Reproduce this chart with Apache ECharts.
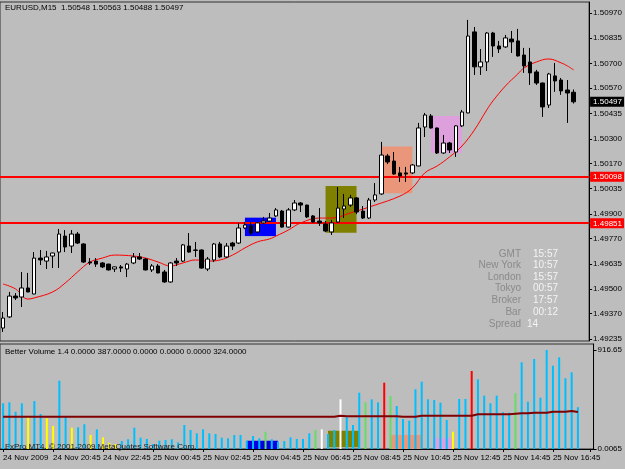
<!DOCTYPE html>
<html>
<head>
<meta charset="utf-8" />
<title>EURUSD,M15</title>
<script src="https://cdn.jsdelivr.net/npm/echarts@6.0.0/dist/echarts.min.js"></script>
<style>
  html, body { margin: 0; padding: 0; background: #bdbdbd; }
  #chart { width: 625px; height: 469px; }
</style>
</head>
<body>
<div id="chart"></div>
<script>
// ---- data ----
var open = [1.49294,1.49353,1.49464,1.49459,1.49507,1.49475,1.49666,1.49650,1.49677,1.49698,
  1.49783,1.49730,1.49794,1.49741,1.49645,1.49650,1.49640,1.49634,1.49608,1.49619,
  1.49608,1.49640,1.49672,1.49661,1.49603,1.49624,1.49592,1.49539,1.49650,1.49650,
  1.49730,1.49709,1.49709,1.49608,1.49656,1.49741,1.49672,1.49746,1.49746,1.49826,
  1.49837,1.49805,1.49853,1.49863,1.49890,1.49916,1.49831,1.49922,1.49959,1.49948,
  1.49890,1.49863,1.49847,1.49805,1.49858,1.49927,1.49948,1.49986,1.49916,1.49879,
  1.49975,1.50007,1.50209,1.50182,1.50119,1.50119,1.50119,1.50156,1.50363,1.50422,
  1.50358,1.50225,1.50278,1.50230,1.50369,1.50438,1.50869,1.50683,1.50709,1.50863,
  1.50794,1.50789,1.50831,1.50821,1.50746,1.50709,1.50656,1.50597,1.50480,1.50635,
  1.50613,1.50560,1.50548];
var high = [1.49379,1.49486,1.49480,1.49592,1.49587,1.49698,1.49709,1.49704,1.49695,1.49821,
  1.49815,1.49815,1.49805,1.49745,1.49666,1.49666,1.49645,1.49636,1.49621,1.49629,
  1.49640,1.49693,1.49693,1.49666,1.49634,1.49634,1.49603,1.49645,1.49666,1.49741,
  1.49799,1.49752,1.49712,1.49672,1.49746,1.49752,1.49746,1.49752,1.49853,1.49858,
  1.49858,1.49858,1.49885,1.49906,1.49932,1.49922,1.49932,1.49975,1.49964,1.49950,
  1.49895,1.49932,1.49863,1.49869,1.50044,1.50007,1.50002,1.49990,1.49943,1.49986,
  1.50065,1.50284,1.50220,1.50230,1.50151,1.50151,1.50166,1.50385,1.50438,1.50432,
  1.50360,1.50321,1.50284,1.50372,1.50454,1.50933,1.50895,1.50778,1.50868,1.50869,
  1.50821,1.50853,1.50874,1.50885,1.50784,1.50784,1.50667,1.50600,1.50651,1.50704,
  1.50624,1.50613,1.50563];
var low = [1.49273,1.49347,1.49443,1.49406,1.49484,1.49473,1.49629,1.49608,1.49613,1.49613,
  1.49698,1.49693,1.49741,1.49640,1.49629,1.49619,1.49613,1.49600,1.49592,1.49592,
  1.49565,1.49634,1.49656,1.49600,1.49592,1.49585,1.49535,1.49535,1.49624,1.49645,
  1.49695,1.49672,1.49610,1.49597,1.49645,1.49666,1.49666,1.49709,1.49741,1.49820,
  1.49789,1.49799,1.49848,1.49858,1.49885,1.49828,1.49828,1.49916,1.49911,1.49879,
  1.49853,1.49837,1.49805,1.49789,1.49853,1.49879,1.49938,1.49900,1.49874,1.49874,
  1.49964,1.50002,1.50166,1.50110,1.50071,1.50071,1.50113,1.50155,1.50310,1.50355,
  1.50220,1.50220,1.50225,1.50204,1.50363,1.50436,1.50640,1.50640,1.50661,1.50736,
  1.50757,1.50784,1.50757,1.50738,1.50651,1.50587,1.50587,1.50417,1.50464,1.50550,
  1.50534,1.50385,1.50488];
var close = [1.49347,1.49464,1.49454,1.49507,1.49486,1.49666,1.49656,1.49672,1.49693,1.49794,
  1.49725,1.49794,1.49746,1.49645,1.49640,1.49634,1.49619,1.49603,1.49619,1.49613,
  1.49634,1.49672,1.49661,1.49603,1.49624,1.49587,1.49539,1.49640,1.49640,1.49736,
  1.49698,1.49707,1.49613,1.49661,1.49741,1.49672,1.49730,1.49730,1.49826,1.49842,
  1.49799,1.49853,1.49863,1.49879,1.49922,1.49831,1.49922,1.49959,1.49948,1.49885,
  1.49858,1.49853,1.49810,1.49853,1.49932,1.49943,1.49986,1.49911,1.49879,1.49975,
  1.50002,1.50214,1.50177,1.50113,1.50103,1.50113,1.50161,1.50358,1.50427,1.50358,
  1.50225,1.50278,1.50241,1.50369,1.50443,1.50847,1.50683,1.50709,1.50863,1.50794,
  1.50778,1.50837,1.50816,1.50741,1.50688,1.50651,1.50597,1.50470,1.50645,1.50608,
  1.50555,1.50544,1.50497];

// red moving average, read at some bars
var maBar = [0,2,4,5,8,10,12,14,16,18,21,23,25,27,29,31,33,35,37,39,41,43,44,46,48,51,53,56,60,64,66,68,70,72,74,76,78,79,81,83,84,86,88,90,91,92];
var maVal = [1.49528,1.49502,1.49448,1.49454,1.49486,1.49533,1.49592,1.49645,1.49666,1.49682,
  1.49677,1.49666,1.49645,1.49624,1.49640,1.49656,1.49650,1.49656,1.49682,1.49720,
  1.49752,1.49768,1.49783,1.49815,1.49853,1.49879,1.49879,1.49906,1.49948,1.49996,
  1.50039,1.50119,1.50156,1.50204,1.50262,1.50347,1.50454,1.50502,1.50581,1.50645,
  1.50677,1.50709,1.50725,1.50704,1.50688,1.50667];

// session boxes
var boxStart = [39, 52, 61, 69];
var boxEnd = [44, 57, 66, 74];
var boxLow = [1.49783, 1.49801, 1.50011, 1.50225];
var boxHigh = [1.49881, 1.50049, 1.50259, 1.50422];
var boxColors = ['#0000ff', '#808000', '#e9967a', '#dda0dd'];
var volBoxStart = [39, 52, 62, 69];
var volBoxEnd = [44, 57, 67, 72];
var volBoxLow = [0, 16, 0, 0];
var volBoxHigh = [77, 169, 130, 102];

// levels
var redLevels = [1.50098, 1.49851];
var lastPrice = 1.50497;
var priceTicks = [1.49235,1.49370,1.49500,1.49635,1.49770,1.49900,1.50035,1.50170,1.50300,1.50435,1.50570,1.50700,1.50835,1.50970];

// Better Volume
var vols = [423,432,345,423,294,444,324,284,213,632,294,197,201,229,130,182,108,58,46,74,
  90,197,105,93,46,77,83,90,62,222,176,145,182,145,139,105,99,130,130,77,
  120,99,160,90,68,74,108,93,93,145,176,182,139,176,460,294,222,521,432,460,
  432,614,491,398,278,262,553,623,460,454,429,269,160,463,463,722,645,494,423,494,
  340,336,516,803,438,833,475,917,771,849,655,710,387];
var volColors = ['c','c','c','c','y','c','c','y','y','c','c','y','c','c','y','c','y','y','y','c',
  'c','c','c','c','c','c','c','c','c','c','c','c','c','c','c','c','c','c','c','c',
  'c','c','g','c','c','c','c','c','c','c','g','w','c','c','w','c','c','c','g','c',
  'c','r','g','c','c','c','c','c','c','c','c','c','y','c','c','r','c','c','c','c',
  'c','c','g','c','c','c','c','c','c','c','c','c','c'];
var volMa = [299,299,299,299,299,299,299,299,299,299,299,299,299,299,299,299,299,299,299,299,
  299,299,299,299,299,299,299,299,299,299,299,299,299,299,299,299,299,299,299,299,
  299,299,299,299,299,299,299,299,299,299,299,299,299,299,308,303,303,303,303,303,
  303,303,303,303,299,299,299,308,308,308,308,308,308,308,308,308,321,321,321,321,
  321,321,326,331,331,336,336,336,345,345,345,352,343];
var volTicks = [0, 916.65];
var volTickText = ['0.0065', '916.65'];

var timeLabels = ['24 Nov 2009','24 Nov 20:45','24 Nov 22:45','25 Nov 00:45','25 Nov 02:45','25 Nov 04:45',
  '25 Nov 06:45','25 Nov 08:45','25 Nov 10:45','25 Nov 12:45','25 Nov 14:45','25 Nov 16:45'];

var infoNames = ['GMT','New York','London','Tokyo','Broker','Bar','Spread'];
var infoValues = ['15:57','10:57','15:57','00:57','17:57','00:12','14'];

// ---- chart ----
var FONT = '"Liberation Sans", Arial, sans-serif';
var FS = 8;
var NBARS = 95; // two empty slots at the right edge
var cats = [];
for (var i = 0; i < NBARS; i++) cats.push(String(i));

var candles = open.map(function (o, i) { return [o, close[i], low[i], high[i]]; });
var ma = maBar.map(function (b, k) { return [b, maVal[k]]; });
var volPalette = { c: '#00bfff', y: '#ffff00', g: '#66dd66', w: '#ffffff', r: '#ff0000' };
var volData = vols.map(function (v, i) {
  return { value: v, itemStyle: { color: volPalette[volColors[i]] } };
});

function boxRender(colors) {
  return function (params, api) {
    var p1 = api.coord([api.value(0), api.value(3)]);
    var p2 = api.coord([api.value(1), api.value(2)]);
    return {
      type: 'rect',
      shape: { x: p1[0], y: p1[1], width: p2[0] - p1[0], height: p2[1] - p1[1] },
      style: { fill: colors[params.dataIndex] }
    };
  };
}

// full-width horizontal level line
function levelRender(params, api) {
  var y = Math.round(api.coord([0, api.value(1)])[1]);
  var cs = params.coordSys;
  return {
    type: 'rect',
    shape: { x: cs.x, y: y - 1, width: cs.width, height: 2 },
    style: { fill: '#ff0000' }
  };
}

var graphics = [
  { type: 'text', x: 5, y: 4, style: { text: 'EURUSD,M15  1.50548 1.50563 1.50488 1.50497', fill: '#000', fontSize: FS, fontFamily: FONT } },
  { type: 'text', x: 5, y: 348, style: { text: 'Better Volume 1.4 0.0000 387.0000 0.0000 0.0000 0.0000 324.0000', fill: '#000', fontSize: FS, fontFamily: FONT } },
  { type: 'text', x: 5, y: 443, z: 100, style: { text: 'FxPro MT4, \u00a9 2001-2009 MetaQuotes Software Corp.', fill: '#202020', fontSize: FS, fontFamily: FONT } }
];
var infoY = [254, 265, 277, 288, 300, 312, 324];
for (var k = 0; k < infoNames.length; k++) {
  graphics.push({ type: 'text', x: 521, y: infoY[k], style: { text: infoNames[k], fill: '#8a8a8a', fontSize: 10, fontFamily: FONT, align: 'right', verticalAlign: 'middle' } });
  graphics.push({ type: 'text', x: k === 6 ? 527 : 533, y: infoY[k], style: { text: infoValues[k], fill: '#f4f4f4', fontSize: 10, fontFamily: FONT, align: 'left', verticalAlign: 'middle' } });
}

var myChart = echarts.init(document.getElementById('chart'));
var option = {
  animation: false,
  backgroundColor: '#bdbdbd',
  textStyle: { fontFamily: FONT },
  graphic: graphics,
  grid: [
    { left: 0, right: 31, top: 2, height: 339, show: true, borderColor: '#303030', borderWidth: 1 },
    { left: 0, right: 31, top: 344, height: 105, show: true, borderColor: '#303030', borderWidth: 1 }
  ],
  xAxis: [
    { type: 'category', gridIndex: 0, data: cats, show: false },
    {
      type: 'category', gridIndex: 1, data: cats,
      axisLine: { lineStyle: { color: '#000' } },
      axisTick: { show: true, interval: 7, alignWithLabel: true, length: 3, lineStyle: { color: '#000' } },
      axisLabel: {
        interval: 7, align: 'left', color: '#000', fontSize: FS, fontFamily: FONT, margin: 5,
        hideOverlap: false, showMinLabel: true, showMaxLabel: true,
        formatter: function (v) {
          var n = Number(v);
          return n % 8 === 0 && timeLabels[n / 8] ? timeLabels[n / 8] : '';
        }
      }
    }
  ],
  yAxis: [
    {
      type: 'value', gridIndex: 0, position: 'right', min: 1.49225, max: 1.51028,
      axisLine: { show: true, lineStyle: { color: '#000' } },
      axisTick: { show: true, length: 3, customValues: priceTicks, lineStyle: { color: '#000' } },
      axisLabel: { customValues: priceTicks, color: '#000', fontSize: FS, fontFamily: FONT, margin: 4,
        formatter: function (v) { return v.toFixed(5); } },
      splitLine: { show: false }
    },
    {
      type: 'value', gridIndex: 1, position: 'right', min: 0, max: 972,
      axisLine: { show: true, lineStyle: { color: '#000' } },
      axisTick: { show: true, length: 3, customValues: volTicks, lineStyle: { color: '#000' } },
      axisLabel: { customValues: volTicks, color: '#000', fontSize: FS, fontFamily: FONT, margin: 4,
        formatter: function (v) { return volTickText[volTicks.indexOf(v)] || ''; } },
      splitLine: { show: false }
    }
  ],
  series: [
    {
      type: 'custom', xAxisIndex: 0, yAxisIndex: 0, z: 1,
      renderItem: boxRender(boxColors),
      encode: { x: [0, 1], y: [2, 3] },
      data: boxStart.map(function (s, i) { return [s, boxEnd[i], boxLow[i], boxHigh[i]]; })
    },
    {
      type: 'custom', xAxisIndex: 0, yAxisIndex: 0, z: 2,
      renderItem: levelRender,
      encode: { x: 0, y: 1 },
      data: redLevels.map(function (v) { return [0, v]; })
    },
    {
      type: 'line', xAxisIndex: 0, yAxisIndex: 0, z: 2, data: ma, smooth: 0.4,
      symbol: 'none', lineStyle: { color: '#ff0000', width: 1 }
    },
    {
      type: 'candlestick', xAxisIndex: 0, yAxisIndex: 0, z: 3, data: candles, barWidth: 4,
      itemStyle: { color: '#ffffff', color0: '#000000', borderColor: '#000000', borderColor0: '#000000', borderWidth: 1 },
      markLine: {
        silent: true, symbol: 'none', animation: false, precision: 6,
        lineStyle: { color: 'rgba(0,0,0,0)', width: 0, type: 'solid' },
        label: { show: true, position: 'end', distance: 1, fontSize: FS, fontFamily: FONT, padding: [1, 2, 1, 3],
          color: '#fff', backgroundColor: '#ff0000',
          formatter: function (p) { return Number(p.value).toFixed(5); } },
        data: [
          { yAxis: redLevels[0] },
          { yAxis: redLevels[1] },
          { yAxis: lastPrice, label: { backgroundColor: '#000000' } }
        ]
      }
    },
    {
      type: 'custom', xAxisIndex: 1, yAxisIndex: 1, z: 1,
      renderItem: boxRender(['#0000e0', '#808000', '#e9967a', '#dda0dd']),
      encode: { x: [0, 1], y: [2, 3] },
      data: volBoxStart.map(function (s, i) { return [s, volBoxEnd[i], volBoxLow[i], volBoxHigh[i]]; })
    },
    {
      type: 'bar', xAxisIndex: 1, yAxisIndex: 1, z: 2, data: volData, barWidth: 2
    },
    {
      type: 'line', xAxisIndex: 1, yAxisIndex: 1, z: 3, data: volMa,
      symbol: 'none', lineStyle: { color: '#800000', width: 2 }
    }
  ]
};
myChart.setOption(option);
</script>
</body>
</html>
